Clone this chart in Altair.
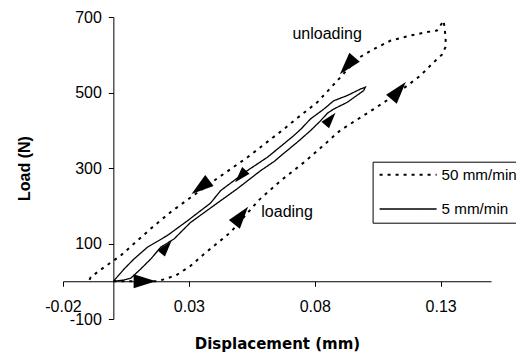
import altair as alt
import pandas as pd

# ---- data ----
series_names = ["50 mm/min", "5 mm/min"]

# 50 mm/min: loading path (lower branch) then unloading path (upper branch)
load50_x = [0.0, 0.005, 0.010, 0.0175, 0.020, 0.025, 0.0307, 0.036, 0.0466, 0.0578, 0.0664,
            0.0763, 0.0902, 0.1034, 0.110, 0.1167, 0.122, 0.1272, 0.1305, 0.1319, 0.1320, 0.1312]
load50_y = [0, 0, 0, 0, 5, 16, 41, 72, 130, 215, 266,
            318, 400, 456, 485, 518, 545, 580, 600, 620, 645, 690]
unload50_x = [0.1285, 0.1246, 0.118, 0.110, 0.1034, 0.0968, 0.0889, 0.0810, 0.0743, 0.0677,
              0.0532, 0.0399, 0.0307, 0.0227, 0.0148, 0.0029, -0.0037, -0.009, -0.0097]
unload50_y = [664, 660, 651, 637, 615, 589, 531, 474, 439, 403,
              328, 266, 222, 183, 139, 68, 37, 11, 0]

# 5 mm/min: loading path then unloading path
load5_x = [0.0, 0.004, 0.0069, 0.0108, 0.0150, 0.0188, 0.0241, 0.0307, 0.039, 0.0492, 0.0585,
           0.0640, 0.0670, 0.073, 0.0783, 0.0823, 0.0850, 0.0875, 0.0929, 0.0994, 0.1001]
load5_y = [0, 3, 8, 32, 60, 90, 112, 156, 196, 245, 293,
           318, 335, 368, 399, 425, 445, 456, 474, 505, 514]
unload5_x = [0.0981, 0.0929, 0.0875, 0.0836, 0.0783, 0.0745, 0.0717, 0.0677, 0.0611, 0.0532,
             0.0426, 0.0386, 0.0333, 0.0294, 0.0214, 0.0135, 0.0082, 0.0042, 0.0]
unload5_y = [509, 492, 478, 456, 430, 403, 386, 364, 328, 293,
             240, 207, 180, 160, 121, 90, 59, 32, 0]

# direction arrows (position in data units, direction in degrees clockwise from up)
arrow_big_x = [0.0125, 0.0508, 0.1133, 0.0929, 0.0346]
arrow_big_y = [0, 174, 505, 571, 249]
arrow_big_dir = [90, 38, 40, 221, 233]
arrow_small_x = [0.021, 0.0862, 0.0505]
arrow_small_y = [90, 430, 278]
arrow_small_dir = [40, 40, 222]

note_text = ["unloading", "loading"]
note_x = [0.0849, 0.069]
note_y = [655, 183]

x_ticks = [-0.02, 0.03, 0.08, 0.13]
y_ticks = [-100, 100, 300, 500, 700]

# ---- tables ----
rows = []
for name, xs, ys in [
    (series_names[0], load50_x + unload50_x, load50_y + unload50_y),
    (series_names[1], load5_x + unload5_x, load5_y + unload5_y),
]:
    for i, (xv, yv) in enumerate(zip(xs, ys)):
        rows.append({"x": xv, "y": yv, "series": name, "i": i})
curves = pd.DataFrame(rows)
big = pd.DataFrame({"x": arrow_big_x, "y": arrow_big_y, "dir": arrow_big_dir})
small = pd.DataFrame({"x": arrow_small_x, "y": arrow_small_y, "dir": arrow_small_dir})
notes = pd.DataFrame({"x": note_x, "y": note_y, "t": note_text})

FONT = "Liberation Sans"
W, H = 428, 302

x_enc = alt.X(
    "x:Q",
    scale=alt.Scale(domain=[-0.02, 0.15], nice=False, zero=False),
    axis=alt.Axis(
        values=x_ticks, orient="bottom", offset=-H * 100 / 800, grid=False,
        tickSize=5, labelPadding=12, labelFlush=False,
        labelExpr="datum.value < 0 ? '-' + format(-datum.value, '.2f') : format(datum.value, '.2f')",
        labelFont=FONT, labelFontSize=16, labelColor="black",
        domainColor="black", tickColor="black",
        title="Displacement (mm)", titleFont="DejaVu Sans", titleFontSize=15,
        titleFontWeight="bold", titleColor="black", titlePadding=22.5,
    ),
)
y_enc = alt.Y(
    "y:Q",
    scale=alt.Scale(domain=[-100, 700], nice=False, zero=False),
    axis=alt.Axis(
        values=y_ticks, orient="left", offset=-W * 0.02 / 0.17, grid=False,
        tickSize=5, labelPadding=7, labelFlush=False,
        labelExpr="datum.value < 0 ? '-' + format(-datum.value, 'd') : format(datum.value, 'd')",
        labelFont=FONT, labelFontSize=16, labelColor="black",
        domainColor="black", tickColor="black",
        title="Load (N)", titleFont=FONT, titleFontSize=16,
        titleFontWeight="bold", titleColor="black", titlePadding=37,
    ),
)

lines = alt.Chart(curves).mark_line(color="black", strokeCap="butt").encode(
    x=x_enc,
    y=y_enc,
    order="i:Q",
    strokeDash=alt.StrokeDash(
        "series:N",
        scale=alt.Scale(domain=series_names, range=[[3, 5], [1, 0]]),
        legend=alt.Legend(
            title=None, orient="none", legendX=309.6, legendY=144.7,
            symbolType="stroke", symbolSize=3249, symbolStrokeColor="black",
            symbolStrokeWidth=1.5, clipHeight=20, rowPadding=14.3,
            labelFont=FONT, labelFontSize=15.2, labelColor="black", labelOffset=4,
            labelLimit=300, padding=3, symbolOffset=3,
            strokeColor="black", fillColor="white",
        ),
    ),
    strokeWidth=alt.StrokeWidth(
        "series:N", scale=alt.Scale(domain=series_names, range=[2, 1.3]), legend=None
    ),
)

tri = "M0,-1L0.62,1L-0.62,1Z"
arrows_big = alt.Chart(big).mark_point(
    shape=tri, filled=True, color="black", opacity=1, size=500, strokeWidth=0
).encode(x=x_enc, y=y_enc, angle=alt.Angle("dir:Q", scale=None))
arrows_small = alt.Chart(small).mark_point(
    shape=tri, filled=True, color="black", opacity=1, size=256, strokeWidth=0
).encode(x=x_enc, y=y_enc, angle=alt.Angle("dir:Q", scale=None))

texts = alt.Chart(notes).mark_text(font=FONT, fontSize=16, color="black").encode(
    x=x_enc, y=y_enc, text="t:N"
)

chart = alt.layer(lines, arrows_big, arrows_small, texts).properties(
    width=W, height=H,
    autosize=alt.AutoSizeParams(type="none"),
    padding={"left": 55, "top": 9, "right": 25, "bottom": 34},
).configure_view(stroke=None)

chart.save("out.html", embed_options={"renderer": "svg", "actions": False})
